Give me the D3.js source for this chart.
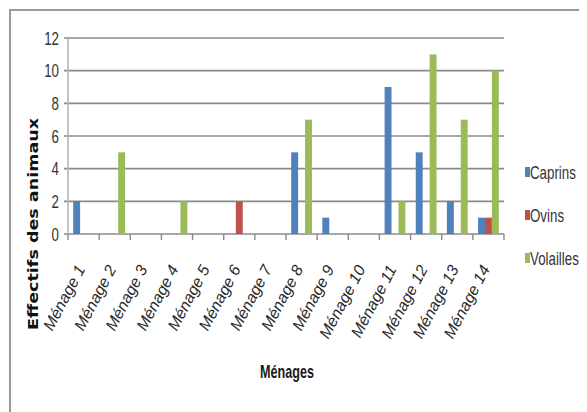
<!DOCTYPE html>
<html>
<head>
<meta charset="utf-8">
<script src="https://cdn.jsdelivr.net/npm/d3@7"></script>
<style>
  html, body { margin: 0; padding: 0; background: #fff; }
  svg { display: block; }
</style>
</head>
<body>
<svg id="chart" width="587" height="412"></svg>
<script>
// Household livestock counts
const categories = ["Ménage 1","Ménage 2","Ménage 3","Ménage 4","Ménage 5","Ménage 6","Ménage 7",
                    "Ménage 8","Ménage 9","Ménage 10","Ménage 11","Ménage 12","Ménage 13","Ménage 14"];
const seriesNames = ["Caprins","Ovins","Volailles"];
const caprins   = [2,0,0,0,0,0,0,5,1,0,9,5,2,1];
const ovins     = [0,0,0,0,0,2,0,0,0,0,0,0,0,1];
const volailles = [0,5,0,2,0,0,0,7,0,0,2,11,7,10];
const yTicks = [0,2,4,6,8,10,12];
const colors = ["#4F81BD","#C0504D","#9BBB59"];

const seriesValues = [caprins, ovins, volailles];

const svg = d3.select("#chart");
const plot = { left: 68, right: 504, top: 38, bottom: 234 };
const grey = "#8a8a8a";
const narrow = 0.74;            // horizontal squeeze used for the compact labels
const sans = "'Liberation Sans', Arial, sans-serif";

// chart frame (top and left edges)
svg.append("path")
  .attr("d", "M10,412 L10,10 L579,10")
  .attr("fill", "none").attr("stroke", "#9a9a9a").attr("stroke-width", 2);

const x = d3.scaleBand().domain(categories).range([plot.left, plot.right]).padding(0);
const xs = d3.scaleBand().domain(seriesNames).range([0, x.bandwidth()])
  .paddingInner(0).paddingOuter(0.75);
const y = d3.scaleLinear().domain([0, 12]).range([plot.bottom, plot.top]);

// horizontal gridlines with outside ticks
svg.append("g").selectAll("line").data(yTicks).join("line")
  .attr("x1", plot.left - 4).attr("x2", plot.right)
  .attr("y1", d => y(d)).attr("y2", d => y(d))
  .attr("stroke", grey).attr("stroke-width", 1.6);

// value axis line
svg.append("line")
  .attr("x1", plot.left).attr("x2", plot.left)
  .attr("y1", plot.top).attr("y2", plot.bottom)
  .attr("stroke", "#b0b0b0").attr("stroke-width", 1.5);

// category boundary ticks
const bounds = categories.map(c => x(c)).concat([plot.right]);
svg.append("g").selectAll("line").data(bounds).join("line")
  .attr("x1", d => d).attr("x2", d => d)
  .attr("y1", plot.bottom).attr("y2", plot.bottom + 6)
  .attr("stroke", grey).attr("stroke-width", 1.4);

// bars
const barData = [];
categories.forEach((c, i) => {
  seriesNames.forEach((s, j) => {
    barData.push({ c, s, v: seriesValues[j][i], color: colors[j] });
  });
});
svg.append("g").selectAll("rect").data(barData.filter(d => d.v > 0)).join("rect")
  .attr("x", d => x(d.c) + xs(d.s))
  .attr("width", xs.bandwidth())
  .attr("y", d => y(d.v))
  .attr("height", d => y(0) - y(d.v))
  .attr("fill", d => d.color);

// y tick labels
svg.append("g").selectAll("text").data(yTicks).join("text")
  .attr("transform", d => `translate(59,${y(d) + 6.5}) scale(${narrow},1)`)
  .attr("text-anchor", "end")
  .attr("font-family", sans).attr("font-size", 18).attr("fill", "#333")
  .text(d => d);

// category labels, rotated
svg.append("g").selectAll("text").data(categories).join("text")
  .attr("transform", d => `translate(${x(d) + x.bandwidth() / 2 + 2},269) rotate(-62)`)
  .attr("text-anchor", "end")
  .attr("font-family", sans).attr("font-style", "italic").attr("font-size", 16)
  .attr("fill", "#2a2a2a")
  .text(d => d);

// axis titles
svg.append("text")
  .attr("transform", `translate(287,378) scale(0.72,1)`)
  .attr("text-anchor", "middle")
  .attr("font-family", sans).attr("font-weight", "bold").attr("font-size", 17.5)
  .attr("fill", "#1a1a1a")
  .text("Ménages");

svg.append("text")
  .attr("transform", "translate(38,224) rotate(-90)")
  .attr("text-anchor", "middle")
  .attr("font-family", "'DejaVu Sans', sans-serif").attr("font-weight", "bold").attr("font-size", 14.5)
  .attr("textLength", 212).attr("lengthAdjust", "spacingAndGlyphs")
  .attr("fill", "#111")
  .text("Effectifs des animaux");

// legend
const legend = svg.append("g").selectAll("g").data(seriesNames).join("g")
  .attr("transform", (d, i) => `translate(525,${172 + i * 43})`);
legend.append("rect")
  .attr("x", 0).attr("y", -5).attr("width", 5).attr("height", 10)
  .attr("fill", (d, i) => colors[i]);
legend.append("text")
  .attr("transform", `translate(5,6.5) scale(${narrow},1)`)
  .attr("font-family", sans).attr("font-size", 18).attr("fill", "#333")
  .text(d => d);
</script>
</body>
</html>
